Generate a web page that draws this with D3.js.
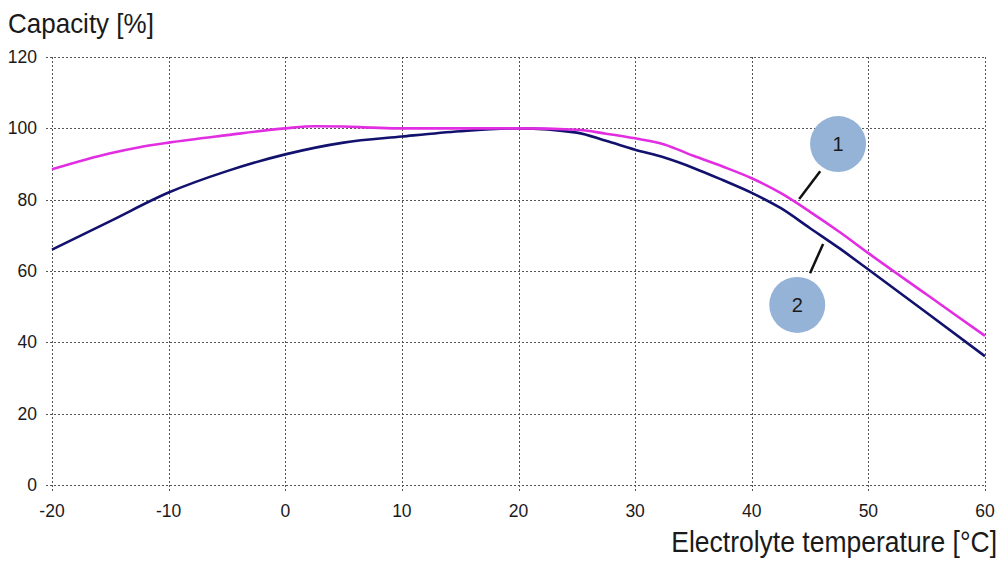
<!DOCTYPE html>
<html>
<head>
<meta charset="utf-8">
<script src="https://cdn.jsdelivr.net/npm/d3@7"></script>
<style>
  body { margin: 0; background: #fff; }
  text { font-family: "Liberation Sans", Arial, sans-serif; fill: #1a1a1a; }
</style>
</head>
<body>
<div class="chart"></div>
<script>
// curve 1 (magenta)
var temps1 = [-20, -15, -12.5, -10, -5, 0, 2.5, 5, 7.5, 10, 15, 20, 25, 27.5, 30, 32.5, 35, 37.5, 40, 42.5, 45, 47.5, 50, 55, 60];
var cap1   = [88.5, 93.0, 94.7, 96.0, 98.1, 100.0, 100.6, 100.5, 100.2, 100, 100, 100, 99.6, 98.5, 97.2, 95.5, 92.3, 89.3, 86.0, 81.8, 76.6, 71.0, 65.0, 53.4, 41.8];
// curve 2 (navy)
var temps2 = [-20, -15, -10, -5, 0, 5, 10, 15, 20, 25, 27.5, 30, 32.5, 35, 37.5, 40, 42.5, 45, 47.5, 50, 55, 60];
var cap2   = [66.0, 74.0, 82.0, 88.0, 92.7, 96.0, 97.7, 99.2, 100, 98.8, 96.5, 94.0, 91.8, 88.9, 85.5, 81.9, 77.6, 72.0, 66.4, 60.4, 48.3, 36.1];

var xTicks = [-20, -10, 0, 10, 20, 30, 40, 50, 60];
var yTicks = [0, 20, 40, 60, 80, 100, 120];

// callout markers: label, bubble centre, leader line start/end (data units)
var calloutLabels = ["1", "2"];
var calloutCentre = [[47.4, 95.6], [43.9, 50.5]];
var calloutLeader = [[[45.87, 88.0], [44.07, 80.2]], [[46.12, 67.6], [45.0, 59.4]]];

var W = 1003, H = 562;
var margin = {left: 52, right: 18, top: 57, bottom: 77};

var svg = d3.select(".chart").append("svg")
    .attr("width", W)
    .attr("height", H);

var x = d3.scaleLinear().domain([-20, 60]).range([margin.left, W - margin.right]);
var y = d3.scaleLinear().domain([0, 120]).range([H - margin.bottom, margin.top]);

// grid (dotted), extended a little past the plot as tick marks
var grid = svg.append("g")
    .attr("stroke", "#555")
    .attr("stroke-width", 1)
    .attr("stroke-dasharray", "2,2")
    .attr("shape-rendering", "crispEdges");

grid.selectAll("line.v")
    .data(xTicks)
    .enter()
        .append("line")
        .attr("class", "v")
        .attr("x1", function(d) { return Math.round(x(d)) + 0.5; })
        .attr("x2", function(d) { return Math.round(x(d)) + 0.5; })
        .attr("y1", y(120))
        .attr("y2", y(0) + 6);

grid.selectAll("line.h")
    .data(yTicks)
    .enter()
        .append("line")
        .attr("class", "h")
        .attr("y1", function(d) { return Math.round(y(d)) + 0.5; })
        .attr("y2", function(d) { return Math.round(y(d)) + 0.5; })
        .attr("x1", x(-20) - 6)
        .attr("x2", x(60));

// tick labels
svg.selectAll("text.ytick")
    .data(yTicks)
    .enter()
        .append("text")
        .attr("class", "ytick")
        .attr("x", 37)
        .attr("y", function(d) { return y(d) + 6; })
        .attr("text-anchor", "end")
        .attr("font-size", 17.5)
        .text(function(d) { return d; });

svg.selectAll("text.xtick")
    .data(xTicks)
    .enter()
        .append("text")
        .attr("class", "xtick")
        .attr("x", function(d) { return x(d); })
        .attr("y", 517)
        .attr("text-anchor", "middle")
        .attr("font-size", 17.5)
        .text(function(d) { return d; });

// axis titles
svg.append("text")
    .attr("transform", "translate(8,33) scale(1,1.08)")
    .attr("font-size", 26)
    .text("Capacity [%]");

svg.append("text")
    .attr("transform", "translate(997,552) scale(1,1.08)")
    .attr("text-anchor", "end")
    .attr("font-size", 26.5)
    .text("Electrolyte temperature [°C]");

// curves
var line = d3.line()
    .x(function(d) { return x(d[0]); })
    .y(function(d) { return y(d[1]); })
    .curve(d3.curveMonotoneX);

svg.append("path")
    .datum(d3.zip(temps2, cap2))
    .attr("fill", "none")
    .attr("stroke", "#12126e")
    .attr("stroke-width", 2.6)
    .attr("d", line);

svg.append("path")
    .datum(d3.zip(temps1, cap1))
    .attr("fill", "none")
    .attr("stroke", "#e22ee2")
    .attr("stroke-width", 2.6)
    .attr("d", line);

// callouts
svg.selectAll("line.leader")
    .data(calloutLeader)
    .enter()
        .append("line")
        .attr("class", "leader")
        .attr("x1", function(d) { return x(d[0][0]); })
        .attr("y1", function(d) { return y(d[0][1]); })
        .attr("x2", function(d) { return x(d[1][0]); })
        .attr("y2", function(d) { return y(d[1][1]); })
        .attr("stroke", "#111")
        .attr("stroke-width", 2.5);

svg.selectAll("circle.bubble")
    .data(calloutCentre)
    .enter()
        .append("circle")
        .attr("class", "bubble")
        .attr("cx", function(d) { return x(d[0]); })
        .attr("cy", function(d) { return y(d[1]); })
        .attr("r", 28)
        .attr("fill", "#95b3d7");

svg.selectAll("text.bubble")
    .data(calloutCentre)
    .enter()
        .append("text")
        .attr("class", "bubble")
        .attr("x", function(d) { return x(d[0]); })
        .attr("y", function(d) { return y(d[1]) + 7; })
        .attr("text-anchor", "middle")
        .attr("font-size", 20)
        .text(function(d, i) { return calloutLabels[i]; });
</script>
</body>
</html>
